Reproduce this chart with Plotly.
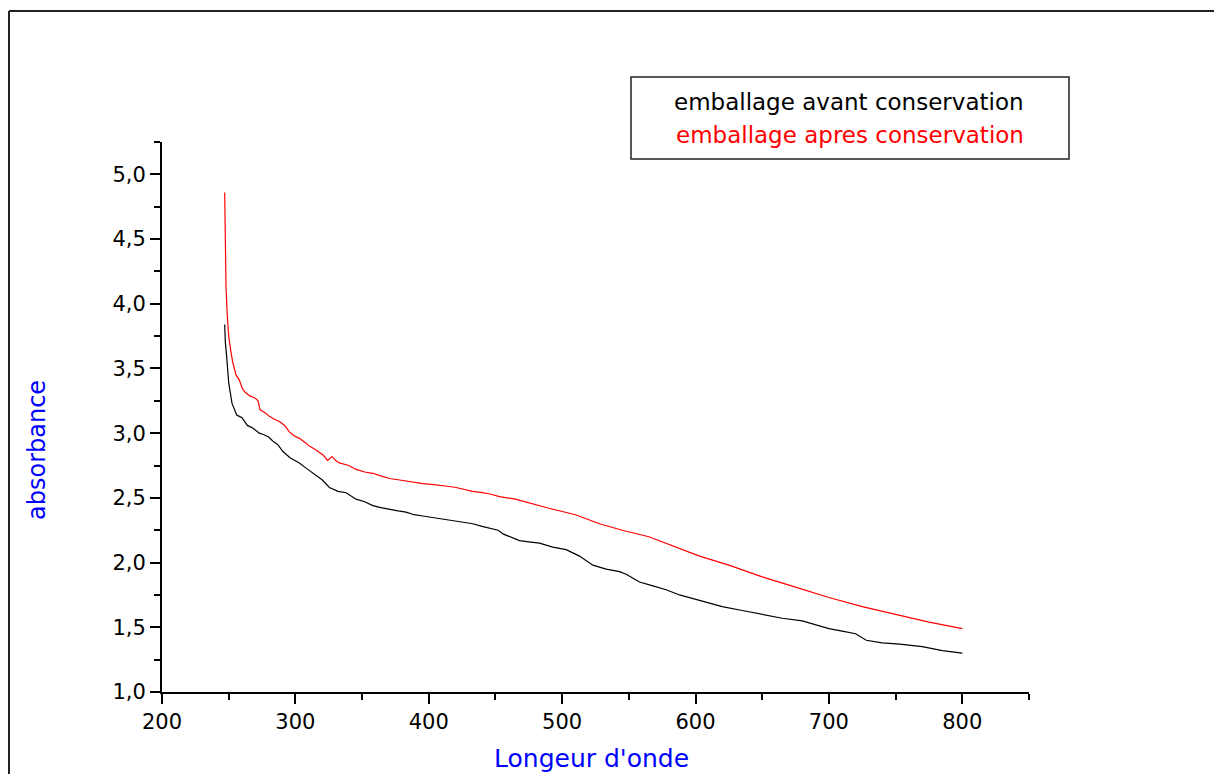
import plotly.graph_objects as go

# ---- data ----
wl_avant = [247, 247.5, 248.5, 250, 252.5, 256, 258, 260, 264, 268, 273, 276, 280, 283, 287,
            290.5, 296, 303, 308, 313, 320, 325.5, 332, 338, 345.5, 352, 358, 364, 370.5, 377,
            383, 389, 395.5, 402, 408, 414, 420.5, 427, 433, 440, 448, 452, 456, 460.5, 468,
            475, 483, 493, 503, 513, 523, 533, 543, 548, 553, 558, 568, 578, 588, 598, 610,
            620, 635, 650, 665, 680, 690, 700, 710, 720, 728, 740, 753, 770, 785, 800]
abs_avant = [3.84, 3.70, 3.59, 3.39, 3.23, 3.14, 3.13, 3.12, 3.06, 3.04, 3.00, 2.99, 2.97, 2.94, 2.91,
             2.86, 2.81, 2.77, 2.73, 2.69, 2.64, 2.58, 2.55, 2.54, 2.49, 2.47, 2.44, 2.425, 2.41, 2.40,
             2.39, 2.37, 2.36, 2.35, 2.34, 2.33, 2.32, 2.31, 2.30, 2.28, 2.26, 2.25, 2.22, 2.20, 2.17,
             2.16, 2.15, 2.12, 2.10, 2.05, 1.98, 1.95, 1.93, 1.91, 1.88, 1.85, 1.82, 1.79, 1.75, 1.72, 1.69,
             1.66, 1.63, 1.60, 1.57, 1.55, 1.52, 1.49, 1.47, 1.45, 1.40, 1.38, 1.37, 1.35, 1.32, 1.30]

wl_apres = [247, 247.5, 248, 249, 250, 251.5, 253, 255.5, 258, 260, 262, 265.5, 270, 272, 273.5,
            277, 280.5, 284, 288, 292, 295.5, 299, 303, 307, 310.5, 314, 318, 321, 324, 326,
            327.5, 330, 333, 340, 345.5, 352, 358, 364, 370.5, 377, 383, 389, 395.5, 402, 408,
            414, 420.5, 427, 433, 440, 446, 453, 465, 490, 510, 528, 545, 565, 585, 603, 625,
            650, 675, 700, 725, 753, 775, 800]
abs_apres = [4.86, 4.50, 4.13, 3.90, 3.75, 3.64, 3.55, 3.45, 3.41, 3.35, 3.32, 3.29, 3.27, 3.25, 3.18,
             3.16, 3.13, 3.11, 3.09, 3.06, 3.01, 2.98, 2.96, 2.93, 2.90, 2.88, 2.85, 2.83, 2.79, 2.81,
             2.82, 2.79, 2.77, 2.75, 2.72, 2.70, 2.69, 2.67, 2.65, 2.64, 2.63, 2.62, 2.61, 2.605, 2.60,
             2.59, 2.58, 2.565, 2.55, 2.54, 2.53, 2.51, 2.49, 2.42, 2.37, 2.30, 2.25, 2.20, 2.12, 2.05, 1.98,
             1.89, 1.81, 1.73, 1.66, 1.59, 1.54, 1.49]

name_avant = "emballage avant conservation"
name_apres = "emballage apres conservation"
x_title = "Longeur d'onde"
y_title = "absorbance"

FONT = "DejaVu Sans"

fig = go.Figure()
fig.add_trace(go.Scatter(x=wl_avant, y=abs_avant, mode="lines", name=name_avant,
                         line=dict(color="black", width=1.2)))
fig.add_trace(go.Scatter(x=wl_apres, y=abs_apres, mode="lines", name=name_apres,
                         line=dict(color="#FF0000", width=1.2)))

# figure fills the whole window (page margin removed in post_script)
W, H = 1214, 774
L, R, T, B = 162, 1029, 142, 692
pw, ph = R - L, B - T


def px(xp):
    return (xp - L) / pw


def py(yp):
    return (B - yp) / ph


axis_common = dict(showline=True, linecolor="black", linewidth=2, ticks="outside",
                   ticklen=10, tickwidth=2, tickcolor="black", showgrid=False, zeroline=False,
                   mirror=False, tickfont=dict(family=FONT, size=21, color="black"))

fig.update_xaxes(range=[200, 850], tick0=200, dtick=100,
                 minor=dict(ticks="outside", ticklen=6, tickwidth=2, tickcolor="black", dtick=50,
                            showgrid=False),
                 **axis_common)
fig.update_yaxes(range=[1.0, 5.25], tick0=1.0, dtick=0.5, tickformat=".1f",
                 minor=dict(ticks="outside", ticklen=6, tickwidth=2, tickcolor="black", dtick=0.25,
                            showgrid=False),
                 **axis_common)

frame = dict(color="#222222", width=2)
shapes = [
    # outer frame: left and top edges (right/bottom lie outside the picture)
    dict(type="line", xref="paper", yref="paper", x0=px(9), x1=px(9), y0=py(800), y1=py(11),
         line=frame),
    dict(type="line", xref="paper", yref="paper", x0=px(9), x1=px(1240), y0=py(11), y1=py(11),
         line=frame),
    # legend box
    dict(type="rect", xref="paper", yref="paper", x0=px(631), x1=px(1069), y0=py(159), y1=py(77),
         line=dict(color="#222222", width=1.5), fillcolor="white"),
]

annotations = [
    dict(text=name_avant, xref="paper", yref="paper", x=px(849), y=py(102), showarrow=False,
         xanchor="center", yanchor="middle", font=dict(family=FONT, size=23, color="black")),
    dict(text=name_apres, xref="paper", yref="paper", x=px(850), y=py(135), showarrow=False,
         xanchor="center", yanchor="middle", font=dict(family=FONT, size=23, color="#FF0000")),
    dict(text=x_title, xref="paper", yref="paper", x=px(591), y=py(758), showarrow=False,
         xanchor="center", yanchor="middle", font=dict(family=FONT, size=25, color="#0000FF")),
    dict(text=y_title, xref="paper", yref="paper", x=px(37), y=py(450), showarrow=False,
         textangle=-90, xanchor="center", yanchor="middle",
         font=dict(family=FONT, size=24, color="#0000FF")),
]

fig.update_layout(width=W, height=H, autosize=False,
                  margin=dict(l=L, r=W - R, t=T, b=H - B, pad=0),
                  paper_bgcolor="white", plot_bgcolor="white",
                  separators=",.", showlegend=False,
                  shapes=shapes, annotations=annotations)

fig.write_html("out.html",
               config={"displayModeBar": False},
               post_script="document.body.style.margin='0';"
                           "document.documentElement.style.overflow='hidden';"
                           "document.body.style.overflow='hidden';")
